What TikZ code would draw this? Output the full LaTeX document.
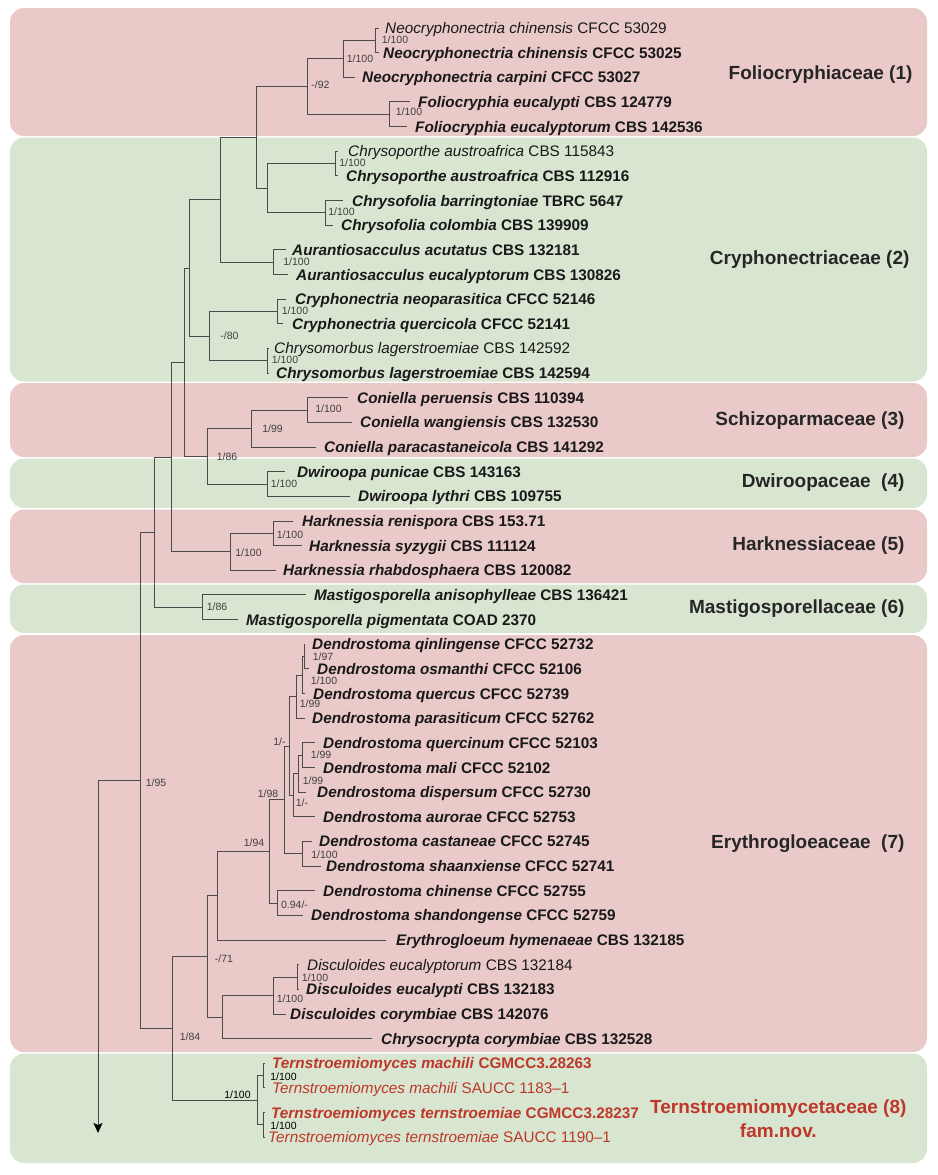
\documentclass[tikz,border=0pt]{standalone}
\usepackage{fontspec}
\setmainfont{Liberation Sans}
\usetikzlibrary{arrows.meta}
\definecolor{bandred}{RGB}{234,201,201}
\definecolor{bandgreen}{RGB}{216,229,208}
\definecolor{newred}{RGB}{190,55,40}
\definecolor{branch}{RGB}{75,75,75}
\newcommand\taxB[2]{\textbf{\textit{#1} #2}}
\newcommand\taxN[2]{\textit{#1} #2}

\begin{document}
\begin{tikzpicture}[x=1pt, y=-1pt,
    tip/.style = {anchor=west, inner sep=0pt, text height=11pt, text depth=0pt,
      font=\fontsize{15.3}{18}\selectfont, text=black!90},
    tipnew/.style = {tip, text=newred},
    supp/.style = {inner sep=0pt, font=\fontsize{10.5}{12}\selectfont, text=black!75},
    fam/.style = {anchor=east, align=center, font=\fontsize{19}{24}\selectfont\bfseries, text=black!85},
    br/.style = {draw=branch, line width=1pt},
    band/.style = {rounded corners=14pt}]

  \useasboundingbox (0,0) rectangle (937,1175);

  % family bands
  \foreach \ya/\yb/\col in {8/136/bandred, 137.5/381.5/bandgreen, 383/457/bandred,
      458.5/508/bandgreen, 509.5/583/bandred, 584.5/633/bandgreen,
      635/1052/bandred, 1053.5/1163/bandgreen}
    \fill[band, \col] (10,\ya) rectangle (927,\yb);

  \node[fam] (f1) at (916,75) {Foliocryphiaceae (1)};
  \node[fam] (f2) at (913,260) {Cryphonectriaceae (2)};
  \node[fam] (f3) at (908,421) {Schizoparmaceae (3)};
  \node[fam] (f4) at (908,483) {Dwiroopaceae\ \ (4)};
  \node[fam] (f5) at (908,546) {Harknessiaceae (5)};
  \node[fam] (f6) at (908,609) {Mastigosporellaceae (6)};
  \node[fam] (f7) at (908,844) {Erythrogloeaceae\ \ (7)};
  \node[fam, text=newred] (f8) at (910,1119) {Ternstroemiomycetaceae (8)\\fam.nov.};

  % tips: number / branch end / text start / label
  \foreach \i/\ex/\tx/\txt in {
      1/379/385/{\taxN{Neocryphonectria chinensis}{CFCC 53029}},
      2/379/383/{\taxB{Neocryphonectria chinensis}{CFCC 53025}},
      3/355/362/{\taxB{Neocryphonectria carpini}{CFCC 53027}},
      4/410/418/{\taxB{Foliocryphia eucalypti}{CBS 124779}},
      5/407/415/{\taxB{Foliocryphia eucalyptorum}{CBS 142536}},
      6/338/348/{\taxN{Chrysoporthe austroafrica}{CBS 115843}},
      7/338/346/{\taxB{Chrysoporthe austroafrica}{CBS 112916}},
      8/343/352/{\taxB{Chrysofolia barringtoniae}{TBRC 5647}},
      9/333/341/{\taxB{Chrysofolia colombia}{CBS 139909}},
      10/286/292/{\taxB{Aurantiosacculus acutatus}{CBS 132181}},
      11/288/296/{\taxB{Aurantiosacculus eucalyptorum}{CBS 130826}},
      12/286/295/{\taxB{Cryphonectria neoparasitica}{CFCC 52146}},
      13/283/292/{\taxB{Cryphonectria quercicola}{CFCC 52141}},
      14/269/274/{\taxN{Chrysomorbus lagerstroemiae}{CBS 142592}},
      15/269/276/{\taxB{Chrysomorbus lagerstroemiae}{CBS 142594}},
      16/348/357/{\taxB{Coniella peruensis}{CBS 110394}},
      17/352/360/{\taxB{Coniella wangiensis}{CBS 132530}},
      18/316/324/{\taxB{Coniella paracastaneicola}{CBS 141292}},
      19/285/297/{\taxB{Dwiroopa punicae}{CBS 143163}},
      20/350/358/{\taxB{Dwiroopa lythri}{CBS 109755}},
      21/293/302/{\taxB{Harknessia renispora}{CBS 153.71}},
      22/302/309/{\taxB{Harknessia syzygii}{CBS 111124}},
      23/276/283/{\taxB{Harknessia rhabdosphaera}{CBS 120082}},
      24/306/314/{\taxB{Mastigosporella anisophylleae}{CBS 136421}},
      25/238/246/{\taxB{Mastigosporella pigmentata}{COAD 2370}},
      26/305/312/{\taxB{Dendrostoma qinlingense}{CFCC 52732}},
      27/309/317/{\taxB{Dendrostoma osmanthi}{CFCC 52106}},
      28/305/313/{\taxB{Dendrostoma quercus}{CFCC 52739}},
      29/305/312/{\taxB{Dendrostoma parasiticum}{CFCC 52762}},
      30/315/323/{\taxB{Dendrostoma quercinum}{CFCC 52103}},
      31/315/323/{\taxB{Dendrostoma mali}{CFCC 52102}},
      32/306/317/{\taxB{Dendrostoma dispersum}{CFCC 52730}},
      33/315/323/{\taxB{Dendrostoma aurorae}{CFCC 52753}},
      34/312/319/{\taxB{Dendrostoma castaneae}{CFCC 52745}},
      35/321/326/{\taxB{Dendrostoma shaanxiense}{CFCC 52741}},
      36/315/323/{\taxB{Dendrostoma chinense}{CFCC 52755}},
      37/303/311/{\taxB{Dendrostoma shandongense}{CFCC 52759}},
      38/386/396/{\taxB{Erythrogloeum hymenaeae}{CBS 132185}},
      39/299/307/{\taxN{Disculoides eucalyptorum}{CBS 132184}},
      40/299/306/{\taxB{Disculoides eucalypti}{CBS 132183}},
      41/286/290/{\taxB{Disculoides corymbiae}{CBS 142076}},
      42/372/381/{\taxB{Chrysocrypta corymbiae}{CBS 132528}}}
  {
    \node[tip] (t\i) at (\tx,{28+(\i-1)*24.65}) {\txt};
    \coordinate (e\i) at (\ex,{28+(\i-1)*24.65});
  }
  \foreach \i/\ex/\tx/\txt in {
      43/265/272/{\taxB{Ternstroemiomyces machili}{CGMCC3.28263}},
      44/265/272/{\taxN{Ternstroemiomyces machili}{SAUCC 1183--1}},
      45/265/271/{\taxB{Ternstroemiomyces ternstroemiae}{CGMCC3.28237}},
      46/265/268/{\taxN{Ternstroemiomyces ternstroemiae}{SAUCC 1190--1}}}
  {
    \node[tipnew] (t\i) at (\tx,{28+(\i-1)*24.65}) {\txt};
    \coordinate (e\i) at (\ex,{28+(\i-1)*24.65});
  }

  % inner nodes of the tree
  \coordinate (cNeoChi) at (375,40.3);
  \coordinate (cNeo) at (343,58.8);
  \coordinate (cFolio) at (389,114.3);
  \coordinate (cFam1) at (307,86.55);
  \coordinate (cChrP) at (335,163.6);
  \coordinate (cChrF) at (325,212.9);
  \coordinate (cChr) at (267,188.25);
  \coordinate (cTop) at (256,137.4);
  \coordinate (cAur) at (273,262.2);
  \coordinate (cUp) at (220,199.8);
  \coordinate (cCry) at (277,311.5);
  \coordinate (cCmb) at (267,360.8);
  \coordinate (cM80) at (209,336.15);
  \coordinate (cFam2) at (189,268);
  \coordinate (cConP) at (307,410.1);
  \coordinate (cCon) at (251,428.6);
  \coordinate (cDwi) at (267,484);
  \coordinate (cSD) at (207,456.3);
  \coordinate (cF) at (184,362.15);
  \coordinate (cHarP) at (273,533.3);
  \coordinate (cHar) at (230,551.8);
  \coordinate (cE) at (171,457);
  \coordinate (cMast) at (202,607.3);
  \coordinate (cB) at (154,532.1);
  \coordinate (cD1) at (304,656.6);
  \coordinate (cD2) at (302,675.1);
  \coordinate (cD3) at (296,696.6);
  \coordinate (cD4) at (302,755.2);
  \coordinate (cD5) at (298,773.7);
  \coordinate (cD6) at (293,795.3);
  \coordinate (cD7) at (289,746);
  \coordinate (cD8) at (302,853.8);
  \coordinate (cD9) at (284,799.9);
  \coordinate (cD10) at (277,903.1);
  \coordinate (cD11) at (269,851.5);
  \coordinate (cD12) at (217,895.8);
  \coordinate (cDisP) at (297,977);
  \coordinate (cDis) at (273,995.5);
  \coordinate (cDC) at (222,1017.1);
  \coordinate (cFam7) at (207,956.4);
  \coordinate (cTerM) at (263,1075.6);
  \coordinate (cTerT) at (263,1124.9);
  \coordinate (cTer) at (257,1100.3);
  \coordinate (cC) at (172,1028.3);
  \coordinate (cA) at (140,780.2);
  \coordinate (out) at (98,1133);

  % branches
  \foreach \p/\c in {cNeoChi/e1, cNeoChi/e2, cNeo/cNeoChi, cNeo/e3, cFolio/e4, cFolio/e5,
      cFam1/cNeo, cFam1/cFolio, cChrP/e6, cChrP/e7, cChrF/e8, cChrF/e9,
      cChr/cChrP, cChr/cChrF, cTop/cFam1, cTop/cChr, cAur/e10, cAur/e11,
      cUp/cTop, cUp/cAur, cCry/e12, cCry/e13, cCmb/e14, cCmb/e15,
      cM80/cCry, cM80/cCmb, cFam2/cUp, cFam2/cM80,
      cConP/e16, cConP/e17, cCon/cConP, cCon/e18, cDwi/e19, cDwi/e20,
      cSD/cCon, cSD/cDwi, cF/cFam2, cF/cSD,
      cHarP/e21, cHarP/e22, cHar/cHarP, cHar/e23, cE/cF, cE/cHar,
      cMast/e24, cMast/e25, cB/cE, cB/cMast,
      cD1/e26, cD1/e27, cD2/cD1, cD2/e28, cD3/cD2, cD3/e29,
      cD4/e30, cD4/e31, cD5/cD4, cD5/e32, cD6/cD5, cD6/e33,
      cD7/cD3, cD7/cD6, cD8/e34, cD8/e35, cD9/cD7, cD9/cD8,
      cD10/e36, cD10/e37, cD11/cD9, cD11/cD10, cD12/cD11, cD12/e38,
      cDisP/e39, cDisP/e40, cDis/cDisP, cDis/e41, cDC/cDis, cDC/e42,
      cFam7/cD12, cFam7/cDC, cTerM/e43, cTerM/e44, cTerT/e45, cTerT/e46,
      cTer/cTerM, cTer/cTerT, cC/cFam7, cC/cTer, cA/cB, cA/cC}
    \draw[br] (\p) |- (\c);
  \draw[br, -{Stealth[length=10pt, width=9pt, inset=2pt, color=black]}] (cA) -| (out);

  % support values
  \node[supp] (sNeoChi) at (395,40) {1/100};
  \node[supp] (sNeo) at (360,59) {1/100};
  \node[supp] (sFam1) at (320.5,85) {-/92};
  \node[supp] (sFolio) at (409,112) {1/100};
  \node[supp] (sChrP) at (352.5,163) {1/100};
  \node[supp] (sChrF) at (341.5,212) {1/100};
  \node[supp] (sAur) at (296.5,262) {1/100};
  \node[supp] (sCry) at (295,311) {1/100};
  \node[supp] (sM80) at (229.5,336) {-/80};
  \node[supp] (sCmb) at (285,360) {1/100};
  \node[supp] (sConP) at (328.5,409) {1/100};
  \node[supp] (sCon) at (272.5,429) {1/99};
  \node[supp] (sSD) at (227,457) {1/86};
  \node[supp] (sDwi) at (284,484) {1/100};
  \node[supp] (sHarP) at (290,535) {1/100};
  \node[supp] (sHar) at (248.5,553) {1/100};
  \node[supp] (sMast) at (217,607) {1/86};
  \node[supp] (sD1) at (323,657) {1/97};
  \node[supp] (sD2) at (324,681) {1/100};
  \node[supp] (sD3) at (310,704) {1/99};
  \node[supp] (sD7) at (279.5,742) {1/-};
  \node[supp] (sD4) at (321,755) {1/99};
  \node[supp] (sD5) at (313,781) {1/99};
  \node[supp] (sD6) at (302,803) {1/-};
  \node[supp] (sD9) at (268,794) {1/98};
  \node[supp] (sD8) at (324.5,855) {1/100};
  \node[supp] (sD11) at (254,843) {1/94};
  \node[supp] (sD10) at (294.5,905) {0.94/-};
  \node[supp] (sFam7) at (224,959) {-/71};
  \node[supp] (sDisP) at (315,978) {1/100};
  \node[supp] (sDis) at (290,999) {1/100};
  \node[supp] (sC) at (190,1037) {1/84};
  \node[supp, text=black] (sTer) at (237.5,1095) {1/100};
  \node[supp, text=black] (sTerM) at (283.5,1076.5) {1/100};
  \node[supp, text=black] (sTerT) at (283.5,1125.5) {1/100};
  \node[supp] (sA) at (156,783) {1/95};
\end{tikzpicture}
\end{document}
